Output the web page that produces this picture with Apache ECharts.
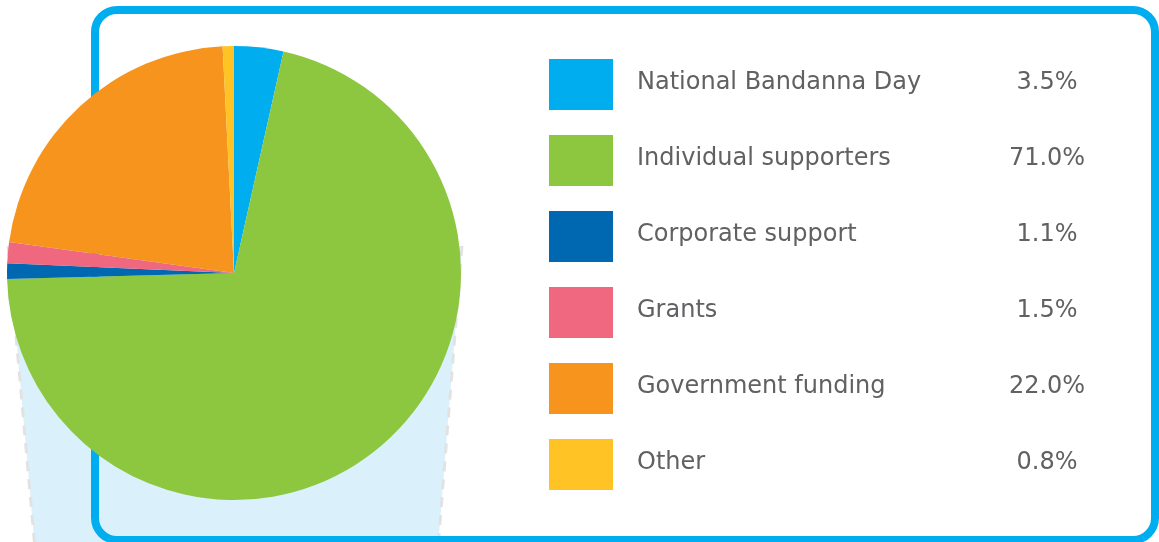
<!DOCTYPE html>
<html>
<head>
<meta charset="utf-8">
<script src="https://cdn.jsdelivr.net/npm/echarts@6/dist/echarts.min.js"></script>
<style>
  html, body { margin: 0; padding: 0; background: #ffffff; }
  #chart { width: 1159px; height: 542px; }
</style>
</head>
<body>
<div id="chart"></div>
<script>
// Income sources, share of total (%)
const categories = [
  'National Bandanna Day',
  'Individual supporters',
  'Corporate support',
  'Grants',
  'Government funding',
  'Other'
];
const shares = [3.5, 71.0, 1.1, 1.5, 22.0, 0.8];
const shareLabels = ['3.5%', '71.0%', '1.1%', '1.5%', '22.0%', '0.8%'];
const colors = ['#00AEEF', '#8DC63F', '#0067B1', '#F06780', '#F7941E', '#FFC325'];

const chart = echarts.init(document.getElementById('chart'), null, { renderer: 'canvas' });

const labelByName = {};
categories.forEach((c, i) => { labelByName[c] = shareLabels[i]; });

const textColor = '#606163';

const option = {
  animation: false,
  backgroundColor: '#ffffff',
  color: colors,
  graphic: [
    // pale blue cup shape behind the pie
    {
      type: 'polygon',
      z: 0,
      silent: true,
      shape: { points: [[8, 246], [462, 246], [437, 560], [36, 560]] },
      style: { fill: '#DAF1FB' }
    },
    {
      type: 'polyline',
      z: 0,
      silent: true,
      shape: { points: [[8, 246], [36, 560]] },
      style: { stroke: '#E2E2E2', lineWidth: 3, lineDash: [10, 8], fill: null }
    },
    {
      type: 'polyline',
      z: 0,
      silent: true,
      shape: { points: [[462, 246], [437, 560]] },
      style: { stroke: '#E2E2E2', lineWidth: 3, lineDash: [10, 8], fill: null }
    },
    // rounded frame
    {
      type: 'rect',
      z: 1,
      silent: true,
      shape: { x: 95, y: 10, width: 1060, height: 530, r: 22 },
      style: { fill: null, stroke: '#00AEEF', lineWidth: 8 }
    }
  ],
  legend: {
    orient: 'vertical',
    left: 549,
    top: 59,
    padding: 0,
    itemWidth: 64,
    itemHeight: 51,
    itemGap: 25,
    icon: 'rect',
    selectedMode: false,
    data: categories,
    formatter: function (name) {
      return '{s|}{n|' + name + '}{v|' + labelByName[name] + '}';
    },
    textStyle: {
      fontFamily: 'DejaVu Sans',
      fontSize: 24,
      color: textColor,
      rich: {
        s: { width: 19 },
        n: { width: 370, fontFamily: 'DejaVu Sans', fontSize: 24, color: textColor, padding: [0, 0, 4, 0] },
        v: { width: 80, align: 'center', fontFamily: 'DejaVu Sans', fontSize: 24, color: textColor, padding: [0, 0, 4, 0] }
      }
    }
  },
  series: [
    {
      type: 'pie',
      z: 2,
      center: [234, 273],
      radius: [0, 227],
      startAngle: 90,
      clockwise: true,
      silent: true,
      label: { show: false },
      labelLine: { show: false },
      itemStyle: { borderWidth: 0 },
      data: categories.map((c, i) => ({ name: c, value: shares[i] }))
    }
  ]
};

chart.setOption(option);
</script>
</body>
</html>
